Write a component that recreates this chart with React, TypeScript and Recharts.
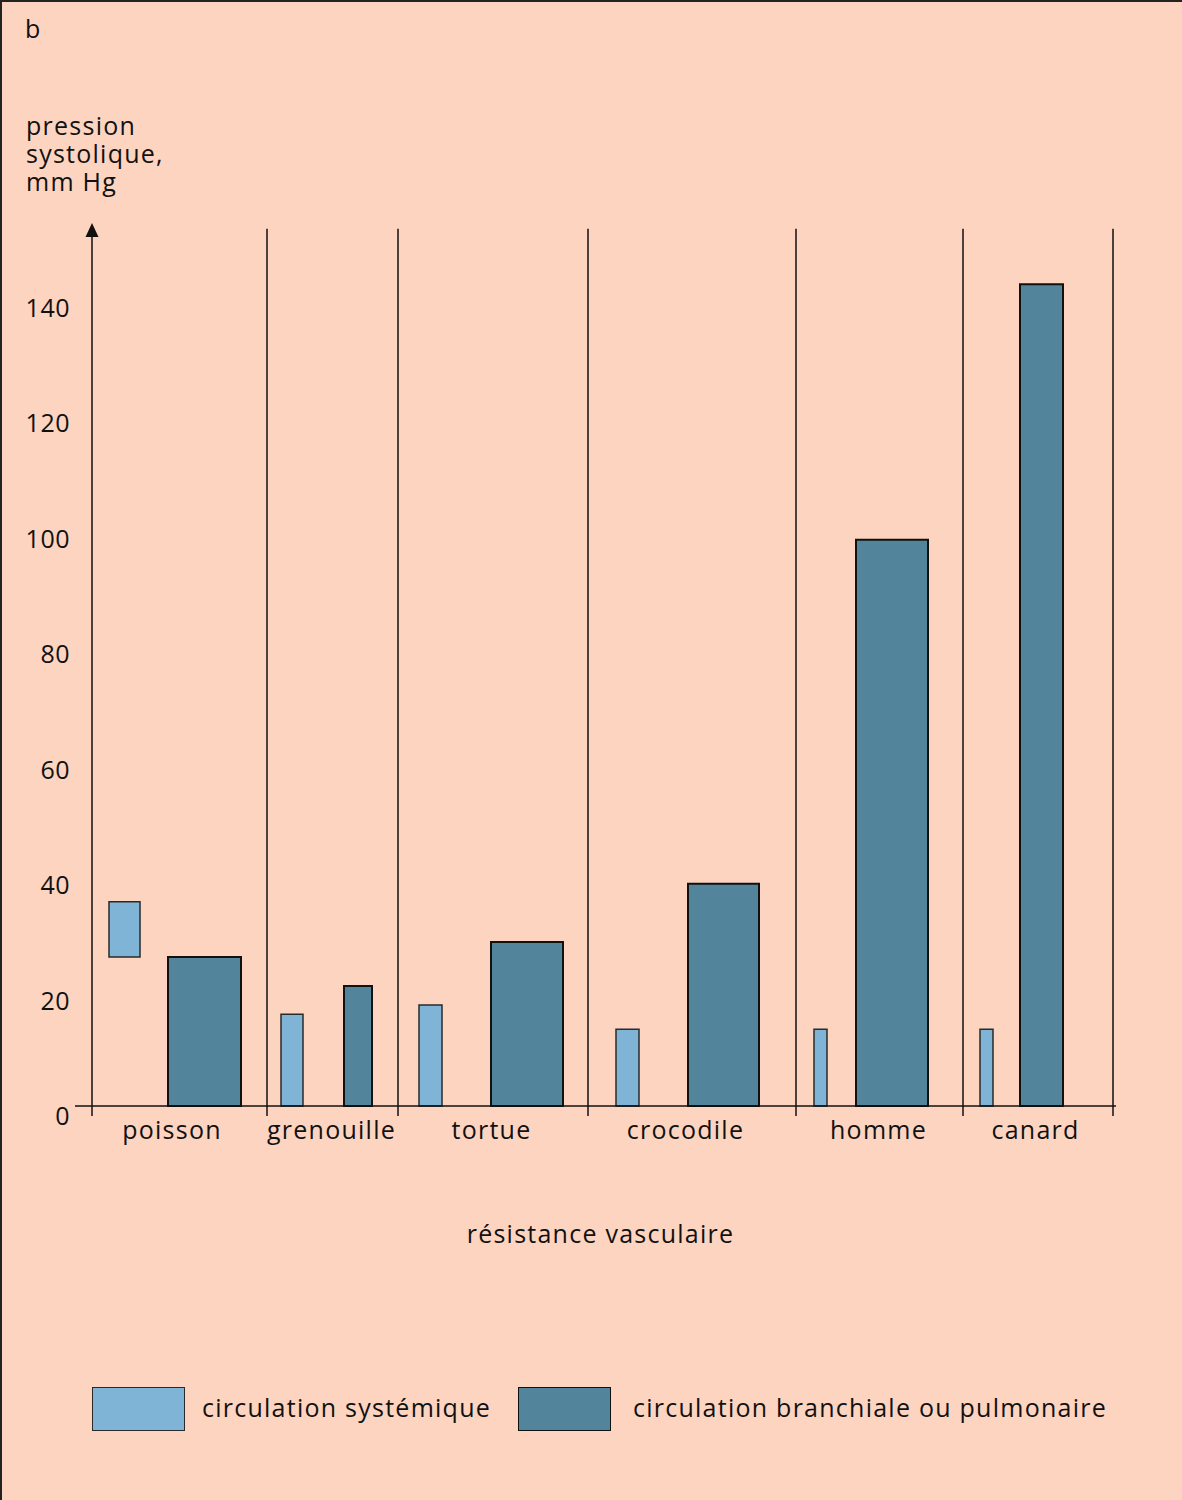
import React from "react";
import {
  ComposedChart,
  XAxis,
  YAxis,
  ReferenceArea,
  ReferenceLine,
  ReferenceDot,
} from "recharts";

// categories along the "résistance vasculaire" axis (relative units)
const species = ["poisson", "grenouille", "tortue", "crocodile", "homme", "canard"];
const bounds = [0, 175, 306, 496, 704, 871, 1021];
const labelPos = [80, 239.5, 399.5, 593.5, 786.5, 943.5];

// circulation systémique: x extent, low / high pressure (mm Hg)
const sysStart = [17, 189, 327, 524, 722, 888];
const sysEnd = [48, 211, 350, 547, 735, 901];
const sysLow = [25.8, 0, 0, 0, 0, 0];
const sysHigh = [35.4, 15.9, 17.5, 13.3, 13.3, 13.3];

// circulation branchiale ou pulmonaire
const pulStart = [76, 252, 399, 596, 764, 928];
const pulEnd = [149, 280, 471, 667, 836, 971];
const pulHigh = [25.8, 20.8, 28.4, 38.5, 98.1, 142.4];

const yTicks = [0, 20, 40, 60, 80, 100, 120, 140];

const BG = "#FDD4C0";
const LIGHT = "#7FB4D7";
const DARK = "#52849B";
const INK = "#111";
const FONT = '"Open Sans", sans-serif';
const FS = 25;
const LS = "1.25px";

const YTick = (props: any) => {
  const { x, y, payload } = props;
  return (
    <text
      x={x}
      y={y + 9}
      textAnchor="end"
      dominantBaseline="central"
      fontSize={FS}
      fill={INK}
      fontFamily={FONT}
      style={{ letterSpacing: "0.5px" }}
    >
      {payload.value}
    </text>
  );
};

const XTick = (props: any) => {
  const { x, y, payload } = props;
  const idx = labelPos.indexOf(payload.value);
  if (idx >= 0) {
    return (
      <text
        x={x}
        y={y + 33}
        textAnchor="middle"
        fontSize={FS}
        fill={INK}
        fontFamily={FONT}
        style={{ letterSpacing: LS }}
      >
        {species[idx]}
      </text>
    );
  }
  return <line x1={x} x2={x} y1={y} y2={y + 10} stroke={INK} strokeWidth={1.5} />;
};

const Arrow = (props: any) => {
  const { cx, cy } = props;
  return <polygon points={`${cx},${cy} ${cx - 6.5},${cy + 14} ${cx + 6.5},${cy + 14}`} fill={INK} />;
};

const txt: React.CSSProperties = {
  position: "absolute",
  fontSize: FS,
  lineHeight: "28px",
  letterSpacing: LS,
  whiteSpace: "nowrap",
};

export default function App() {
  return (
    <div
      style={{
        position: "absolute",
        left: 0,
        top: 0,
        width: 1182,
        height: 1500,
        background: BG,
        boxShadow: "inset 2px 2px 0 #222",
        fontFamily: FONT,
        color: INK,
      }}
    >
      <div style={{ ...txt, left: 25, top: 14 }}>b</div>
      <div style={{ ...txt, left: 26, top: 111 }}>pression</div>
      <div style={{ ...txt, left: 26, top: 139 }}>systolique,</div>
      <div style={{ ...txt, left: 26, top: 167 }}>mm Hg</div>

      <ComposedChart
        width={1182}
        height={1500}
        data={species.map((s) => ({ name: s }))}
        margin={{ top: 223, right: 66, left: 0, bottom: 354 }}
        style={{ position: "absolute", left: 0, top: 0 }}
      >
        <XAxis
          type="number"
          dataKey="x"
          domain={[-17, 1024]}
          ticks={[...bounds, ...labelPos]}
          tick={<XTick />}
          tickSize={0}
          tickMargin={0}
          height={40}
          axisLine={{ stroke: INK, strokeWidth: 1.5 }}
          tickLine={false}
          interval={0}
          allowDataOverflow
        />
        <YAxis
          type="number"
          domain={[0, 153]}
          ticks={yTicks}
          tick={<YTick />}
          width={75}
          tickSize={0}
          tickMargin={5}
          axisLine={false}
          tickLine={false}
          interval={0}
          allowDataOverflow
        />
        {bounds.map((b, i) => (
          <ReferenceLine
            key={"sep" + i}
            segment={[
              { x: b, y: 0 },
              { x: b, y: i === 0 ? 152.5 : 152 },
            ]}
            stroke={INK}
            strokeWidth={1.5}
            ifOverflow="visible"
          />
        ))}
        <ReferenceDot x={0} y={153} r={0} shape={<Arrow />} ifOverflow="visible" />
        {species.map((s, i) => (
          <ReferenceArea
            key={"sys" + s}
            x1={sysStart[i]}
            x2={sysEnd[i]}
            y1={sysLow[i]}
            y2={sysHigh[i]}
            fill={LIGHT}
            fillOpacity={1}
            stroke="#2a2a2a"
            strokeWidth={1.5}
            ifOverflow="visible"
          />
        ))}
        {species.map((s, i) => (
          <ReferenceArea
            key={"pul" + s}
            x1={pulStart[i]}
            x2={pulEnd[i]}
            y1={0}
            y2={pulHigh[i]}
            fill={DARK}
            fillOpacity={1}
            stroke={INK}
            strokeWidth={2}
            ifOverflow="visible"
          />
        ))}
      </ComposedChart>

      <div style={{ ...txt, left: 0, top: 1219, width: 1201, textAlign: "center" }}>
        résistance vasculaire
      </div>

      <div style={{ position: "absolute", left: 92, top: 1387, width: 93, height: 44, background: LIGHT, border: "1.5px solid #2a2a2a", boxSizing: "border-box" }} />
      <div style={{ ...txt, left: 202, top: 1393 }}>circulation systémique</div>
      <div style={{ position: "absolute", left: 518, top: 1387, width: 93, height: 44, background: DARK, border: "1.5px solid #111", boxSizing: "border-box" }} />
      <div style={{ ...txt, left: 633, top: 1393 }}>circulation branchiale ou pulmonaire</div>
    </div>
  );
}
